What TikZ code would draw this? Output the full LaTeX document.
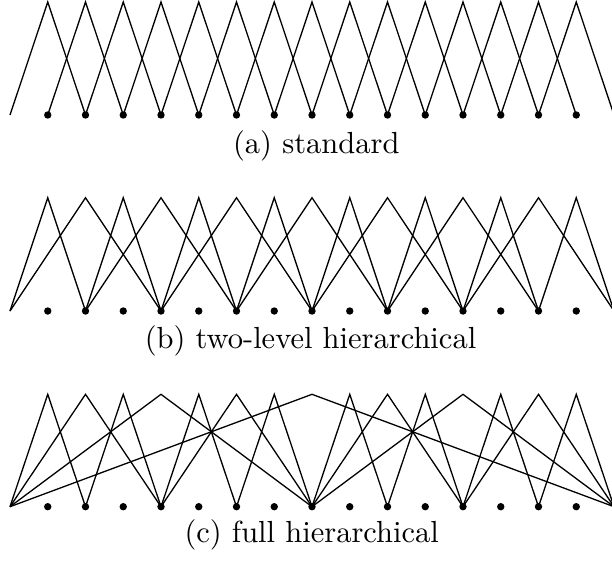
\documentclass[tikz,border=0pt]{standalone}
\begin{document}
\begin{tikzpicture}[x=1pt,y=-1pt,
  hat/.style={line width=1.3pt, line join=miter},
  knot/.style={circle, fill=black, inner sep=0pt, minimum size=7.4pt},
  caption/.style={inner sep=0pt, font=\normalsize, scale=3.05}]
\useasboundingbox (0,0) rectangle (612,563);
% grid coordinates
\foreach \r/\yt/\yb in {a/2/115, b/197.7/311, c/394.3/506.7} {
  \foreach \i in {0,...,16} {
    \coordinate (\r b\i) at ({10+37.75*\i},\yb);
    \coordinate (\r t\i) at ({10+37.75*\i},\yt);
  }
}
% (a) standard
\foreach \i [evaluate=\i as \lo using {int(\i-1)}, evaluate=\i as \hi using {int(\i+1)}] in {1,...,15}
  \draw[hat] (ab\lo) -- (at\i) -- (ab\hi);
% (b) two-level hierarchical
\foreach \i/\w [evaluate=\i as \lo using {int(\i-\w)}, evaluate=\i as \hi using {int(\i+\w)}] in
  {1/1,2/2,3/1,4/2,5/1,6/2,7/1,8/2,9/1,10/2,11/1,12/2,13/1,14/2,15/1}
  \draw[hat] (bb\lo) -- (bt\i) -- (bb\hi);
% (c) full hierarchical
\foreach \i/\w [evaluate=\i as \lo using {int(\i-\w)}, evaluate=\i as \hi using {int(\i+\w)}] in
  {1/1,2/2,3/1,4/4,5/1,6/2,7/1,8/8,9/1,10/2,11/1,12/4,13/1,14/2,15/1}
  \draw[hat] (cb\lo) -- (ct\i) -- (cb\hi);
% knots
\foreach \r in {a,b,c}
  \foreach \i in {1,...,15}
    \node[knot] (\r k\i) at (\r b\i) {};
% captions
\node[caption] (capa) at (316.3,146) {(a) standard};
\node[caption] (capb) at (310.5,340.5) {(b) two-level hierarchical};
\node[caption] (capc) at (311.7,535) {(c) full hierarchical};
\end{tikzpicture}
\end{document}
